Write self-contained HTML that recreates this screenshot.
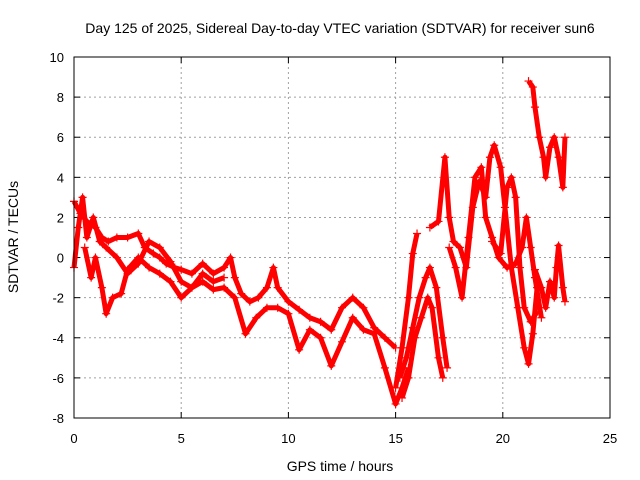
<!DOCTYPE html>
<html><head><meta charset="utf-8"><style>
body{margin:0;background:#fff;}
svg{display:block;font-family:"Liberation Sans",sans-serif;}
</style></head><body>
<svg id="chart" width="640" height="480" viewBox="0 0 640 480" xmlns="http://www.w3.org/2000/svg">
<rect width="640" height="480" fill="#fff"/>
<text x="340" y="33" font-size="14" text-anchor="middle" fill="#000">Day 125 of 2025, Sidereal Day-to-day VTEC variation (SDTVAR) for receiver sun6</text>
<text x="340" y="471" font-size="14" text-anchor="middle">GPS time / hours</text>
<text x="18" y="237" font-size="14" text-anchor="middle" transform="rotate(-90 18 237)">SDTVAR / TECUs</text>
<g id="grid"></g><g id="ticks"></g><g id="series"></g>
<rect x="74" y="57" width="536" height="361" fill="none" stroke="#000" stroke-width="1"/>
</svg>
<script>
const xTicks=[0,5,10,15,20,25];
const yTicks=[-8,-6,-4,-2,0,2,4,6,8,10];
const trackA=[[0,2.8],[0.3,2.2],[0.6,1.8],[1,1.5],[1.3,1.0],[1.6,0.8],[2,1.0],[2.5,1.0],[3,1.2],[3.3,0.5],[3.7,0.2],[4,0],[4.3,-0.3],[4.7,-0.5],[5,-0.6],[5.5,-0.8],[6,-0.3],[6.5,-0.8],[7,-0.5],[7.3,0],[7.5,-1.0],[7.8,-1.8],[8.2,-2.2],[8.6,-2.0],[9,-1.5],[9.3,-0.5],[9.5,-1.5],[10,-2.2],[10.5,-2.6],[11,-3.0],[11.5,-3.2],[12,-3.6],[12.5,-2.5],[13,-2.0],[13.5,-2.5],[14,-3.5],[14.5,-4.0],[15,-4.5]];
const trackB=[[0.5,0.5],[0.8,-1.0],[1,0],[1.3,-1.5],[1.5,-2.8],[1.8,-2.0],[2.2,-1.8],[2.5,-0.6],[3,0],[3.5,-0.5],[4,-0.8],[4.5,-1.2],[5,-2.0],[5.5,-1.5],[6,-1.2],[6.5,-1.6],[7,-1.5],[7.5,-2.0],[8,-3.8],[8.5,-3.0],[9,-2.5],[9.5,-2.5],[10,-2.8],[10.5,-4.6],[11,-3.6],[11.5,-4.0],[12,-5.4],[12.5,-4.2],[13,-3.0],[13.5,-3.6],[14,-3.8],[14.5,-5.5],[15,-7.3],[15.3,-6.5],[15.6,-5.5]];
const trackC=[[15.2,-6.0],[15.5,-5.0],[15.8,-3.5],[16.1,-2.0],[16.4,-1.0],[16.6,-0.5],[16.9,-1.5],[17.2,-4.0],[17.4,-5.5]];
const trackD=[[15.3,-7.0],[15.6,-6],[15.9,-4.0],[16.2,-3.0],[16.5,-2.0],[16.7,-2.5],[17,-5.0],[17.2,-6.0]];
const trackK=[[15,-6.5],[15.3,-4.5],[15.6,-2.0],[15.8,0.2],[16,1.2]];
const trackE=[[16.6,1.5],[17,1.8],[17.3,5.0],[17.5,2.0],[17.7,0.8],[18,0.5],[18.3,-0.5],[18.6,2.5],[18.9,3.8],[19.2,3.0],[19.4,5.0],[19.6,5.6],[19.9,4.5],[20.1,2.5],[20.4,-0.5],[20.7,-2.5],[21,-4.5],[21.2,-5.3],[21.4,-3.8],[21.6,-1.5]];
const trackF=[[17.5,0.5],[17.8,-0.5],[18.1,-2.0],[18.4,1.0],[18.7,4.0],[19,4.5],[19.2,2.0],[19.5,1.0],[19.8,0],[20.2,-0.5],[20.6,-0.3],[20.9,0.5],[21.1,2.0],[21.3,0.5],[21.5,-1.0],[21.8,-3.0]];
const trackG=[[19.5,0.8],[19.9,0.2],[20.2,3.5],[20.4,4.0],[20.6,3.0],[20.8,-0.5],[21,-2.5],[21.3,-3.2],[21.6,-2.7]];
const trackH=[[21.2,8.8],[21.4,8.5],[21.5,7.5],[21.7,6.0],[21.9,5.0],[22,4.0],[22.2,5.5],[22.4,6.0],[22.6,5.0],[22.8,3.5],[22.9,6.0]];
const trackI=[[21.5,-0.6],[21.8,-1.5],[22,-2.5],[22.2,-1.2],[22.4,-2.0],[22.5,-0.5],[22.6,0.6],[22.8,-1.5],[22.9,-2.2]];
const trackJ=[[0,-0.5],[0.2,1.5],[0.4,3.0],[0.6,1.0],[0.9,2.0],[1.2,0.8],[1.5,0.5],[2,0],[2.5,-0.8],[3,-0.3],[3.5,0.8],[4,0.5],[4.5,-0.2],[5,-1.2],[5.5,-1.5],[6,-0.8],[6.5,-1.2],[7,-1.0]];
const tracks=[trackA,trackB,trackC,trackD,trackK,trackE,trackF,trackG,trackH,trackI,trackJ];

const NS="http://www.w3.org/2000/svg";
const X=v=>74+(v-0)/25*536;
const Y=v=>418-(v+8)/18*361;
function mk(t,a,p){const e=document.createElementNS(NS,t);for(const k in a)e.setAttribute(k,a[k]);p.appendChild(e);return e;}
const grid=document.getElementById('grid'),ticks=document.getElementById('ticks'),ser=document.getElementById('series');
xTicks.forEach(t=>{
  if(t>0&&t<25){const g=mk('line',{x1:X(t),x2:X(t),y1:57,y2:418,stroke:'#a0a0a0','stroke-dasharray':'2,3'},grid);
  
  }
  const l=mk('text',{x:X(t),y:443,'font-size':13,'text-anchor':'middle'},ticks);l.textContent=t;
  
  
  mk('line',{x1:X(t),x2:X(t),y1:418,y2:412,stroke:'#000'},ticks);
  mk('line',{x1:X(t),x2:X(t),y1:57,y2:63,stroke:'#000'},ticks);
});
yTicks.forEach(t=>{
  if(t>-8&&t<10){const g=mk('line',{x1:74,x2:610,y1:Y(t),y2:Y(t),stroke:'#a0a0a0','stroke-dasharray':'2,3'},grid);
  
  }
  const l=mk('text',{x:64,y:Y(t)+5,'font-size':13,'text-anchor':'end'},ticks);l.textContent=t;
  
  
  mk('line',{x1:74,x2:80,y1:Y(t),y2:Y(t),stroke:'#000'},ticks);
  mk('line',{x1:610,x2:604,y1:Y(t),y2:Y(t),stroke:'#000'},ticks);
});
tracks.forEach(tr=>{
  const pl=mk('polyline',{points:tr.map(p=>X(p[0])+','+Y(p[1])).join(' '),fill:'none',stroke:'#f00','stroke-width':5,'stroke-linejoin':'round'},ser);
  
  
  tr.forEach(p=>{
    const x=X(p[0]),y=Y(p[1]);
    const m=mk('path',{d:`M${x-4},${y}H${x+4}M${x},${y-4}V${y+4}`,stroke:'#f00','stroke-width':1.2},ser);
    
    
  });
});
</script>
</body></html>
